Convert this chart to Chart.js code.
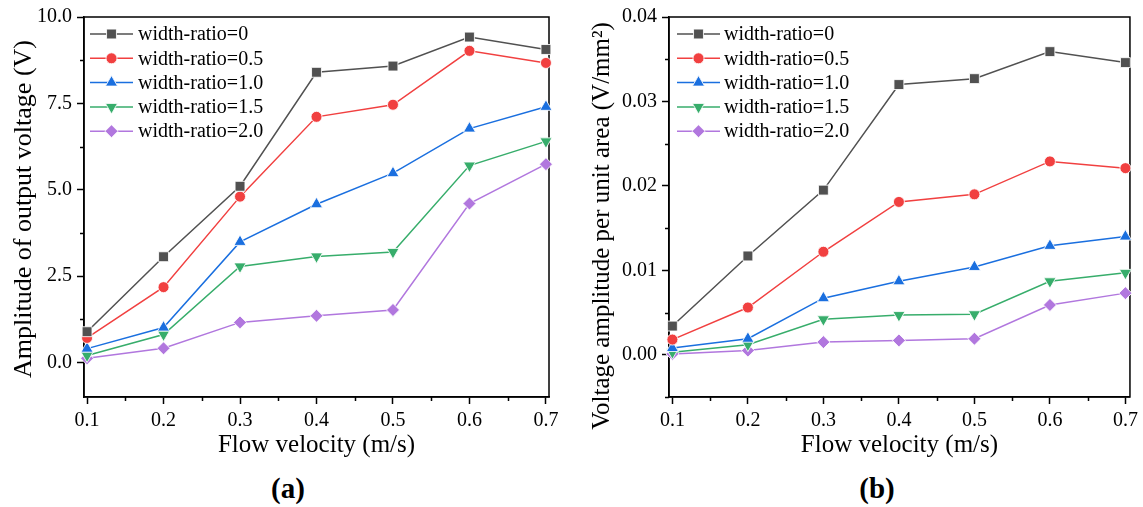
<!DOCTYPE html>
<html>
<head>
<meta charset="utf-8">
<script src="https://cdn.jsdelivr.net/npm/chart.js@4.4.1/dist/chart.umd.min.js"></script>
<style>
  html, body { margin: 0; padding: 0; background: #ffffff; }
  body { width: 1143px; height: 507px; position: relative; overflow: hidden; }
  .panel { position: absolute; top: 0; height: 460px; }
  #panelA { left: 0; width: 571px; }
  #panelB { left: 571px; width: 572px; }
  .tag {
    position: absolute; top: 471px; transform: translateX(-50%);
    font: bold 29px "Liberation Serif", serif; color: #000; line-height: 34px;
  }
</style>
</head>
<body>
<div class="panel" id="panelA"><canvas id="chartA"></canvas></div>
<div class="panel" id="panelB"><canvas id="chartB"></canvas></div>
<div class="tag" style="left:288px">(a)</div>
<div class="tag" style="left:877px">(b)</div>

<script>
// Flow velocities (m/s) shared by both panels
const velocity = [0.1, 0.2, 0.3, 0.4, 0.5, 0.6, 0.7];
const seriesNames = ['width-ratio=0', 'width-ratio=0.5', 'width-ratio=1.0', 'width-ratio=1.5', 'width-ratio=2.0'];

// (a) amplitude of output voltage (V)
const voltR00 = [0.89, 3.06, 5.10, 8.40, 8.58, 9.42, 9.06];
const voltR05 = [0.71, 2.18, 4.80, 7.11, 7.46, 9.02, 8.67];
const voltR10 = [0.40, 1.01, 3.49, 4.58, 5.48, 6.77, 7.40];
const voltR15 = [0.20, 0.81, 2.78, 3.07, 3.20, 5.70, 6.40];
const voltR20 = [0.12, 0.41, 1.16, 1.35, 1.52, 4.60, 5.74];

// (b) voltage amplitude per unit area (V/mm^2)
const densR00 = [0.0034, 0.0117, 0.0195, 0.0320, 0.0327, 0.0359, 0.0346];
const densR05 = [0.0018, 0.0056, 0.0122, 0.0181, 0.0190, 0.0229, 0.0221];
const densR10 = [0.0008, 0.0019, 0.0067, 0.0087, 0.0104, 0.0129, 0.0140];
const densR15 = [0.0003, 0.0012, 0.0042, 0.0047, 0.0048, 0.0087, 0.0097];
const densR20 = [0.0001, 0.0005, 0.0015, 0.0017, 0.0019, 0.0059, 0.0073];

// Tick values
const xTickValues = [0.1, 0.2, 0.3, 0.4, 0.5, 0.6, 0.7];
const xMinorValues = [0.15, 0.25, 0.35, 0.45, 0.55, 0.65];
const voltTickValues = [0, 2.5, 5, 7.5, 10];
const voltMinorValues = [1.25, 3.75, 6.25, 8.75];
const densTickValues = [0, 0.01, 0.02, 0.03, 0.04];
const densMinorValues = [-0.005, 0.005, 0.015, 0.025, 0.035];

const palette = ['#515151', '#F14040', '#1A6FDF', '#37AD6B', '#B177DE'];
const markers = [
  { pointStyle: 'rect', rotation: 0, radius: 7 },
  { pointStyle: 'circle', rotation: 0, radius: 5.5 },
  { pointStyle: 'triangle', rotation: 0, radius: 7 },
  { pointStyle: 'triangle', rotation: 180, radius: 7 },
  { pointStyle: 'rectRot', rotation: 0, radius: 6.5 }
];
const FONT = '"Liberation Serif", "Times New Roman", serif';

function buildDatasets(seriesList) {
  return seriesList.map((vals, i) => ({
    label: seriesNames[i],
    data: velocity.map((x, j) => ({ x: x, y: vals[j] })),
    borderColor: palette[i],
    backgroundColor: palette[i],
    borderWidth: 1.5,
    pointStyle: markers[i].pointStyle,
    pointRotation: markers[i].rotation,
    pointRadius: markers[i].radius,
    pointBackgroundColor: palette[i],
    pointBorderColor: 'rgba(255,255,255,0.85)',
    pointBorderWidth: 1,
    tension: 0,
    clip: false
  }));
}

// Frame around the plot area (top and right edges complete the box)
const framePlugin = {
  id: 'frame',
  beforeDatasetsDraw(chart) {
    const { ctx, chartArea: a } = chart;
    ctx.save();
    ctx.strokeStyle = '#000';
    ctx.lineWidth = 1.5;
    ctx.strokeRect(a.left, a.top, a.right - a.left, a.bottom - a.top);
    ctx.restore();
  }
};

// Short outward minor ticks between the labelled ones
const minorTickPlugin = {
  id: 'minorTicks',
  afterDraw(chart, args, opts) {
    const { ctx, chartArea: a, scales } = chart;
    ctx.save();
    ctx.strokeStyle = '#000';
    ctx.lineWidth = 1.5;
    ctx.beginPath();
    (opts.x || []).forEach(v => {
      const px = Math.round(scales.x.getPixelForValue(v)) + 0.5;
      ctx.moveTo(px, a.bottom);
      ctx.lineTo(px, a.bottom + 4);
    });
    (opts.y || []).forEach(v => {
      const py = Math.round(scales.y.getPixelForValue(v)) + 0.5;
      ctx.moveTo(a.left - 4, py);
      ctx.lineTo(a.left, py);
    });
    ctx.stroke();
    ctx.restore();
  }
};

// Rotated y-axis title, centred at a chosen height beside the axis
const sideTitlePlugin = {
  id: 'sideTitle',
  afterDraw(chart, args, opts) {
    const { ctx } = chart;
    ctx.save();
    ctx.translate(opts.x, opts.y);
    ctx.rotate(-Math.PI / 2);
    ctx.font = opts.size + 'px ' + FONT;
    ctx.fillStyle = '#000';
    ctx.textAlign = 'center';
    ctx.textBaseline = 'middle';
    ctx.fillText(opts.text, 0, 0);
    ctx.restore();
  }
};

// Legend drawn inside the upper-left corner of the plot
const insetLegendPlugin = {
  id: 'insetLegend',
  afterDatasetsDraw(chart, args, opts) {
    const { ctx, chartArea: a } = chart;
    ctx.save();
    ctx.font = '20px ' + FONT;
    ctx.textBaseline = 'middle';
    ctx.textAlign = 'left';
    chart.data.datasets.forEach((ds, i) => {
      const y = a.top + opts.dy + i * opts.spacing;
      const x0 = a.left + opts.dx;
      ctx.strokeStyle = ds.borderColor;
      ctx.lineWidth = 1.5;
      ctx.beginPath();
      ctx.moveTo(x0, y);
      ctx.lineTo(x0 + 43, y);
      ctx.stroke();
      ctx.fillStyle = ds.pointBackgroundColor;
      ctx.strokeStyle = ds.pointBorderColor;
      ctx.lineWidth = ds.pointBorderWidth;
      Chart.helpers.drawPoint(ctx, {
        pointStyle: ds.pointStyle,
        rotation: ds.pointRotation,
        radius: ds.pointRadius,
        borderWidth: ds.pointBorderWidth
      }, x0 + 21.5, y);
      ctx.fillStyle = '#000';
      ctx.fillText(ds.label, a.left + opts.textDx, y + 1);
    });
    ctx.restore();
  }
};

function makeChart(canvasId, cfg) {
  return new Chart(document.getElementById(canvasId), {
    type: 'line',
    data: { datasets: buildDatasets(cfg.series) },
    plugins: [framePlugin, minorTickPlugin, sideTitlePlugin, insetLegendPlugin],
    options: {
      responsive: true,
      maintainAspectRatio: false,
      animation: false,
      layout: { padding: { top: 17, right: cfg.padRight, bottom: 0, left: 0 } },
      plugins: {
        legend: { display: false },
        tooltip: { enabled: false },
        minorTicks: { x: xMinorValues, y: cfg.yMinor },
        sideTitle: { text: cfg.yTitle, x: cfg.yTitleX, y: cfg.yTitleY, size: cfg.yTitleSize },
        insetLegend: { dx: cfg.legendDx, textDx: cfg.legendTextDx, dy: 17, spacing: 24.3 }
      },
      scales: {
        x: {
          type: 'linear',
          min: cfg.xMin,
          max: cfg.xMax,
          afterBuildTicks: s => { s.ticks = xTickValues.map(v => ({ value: v })); },
          afterFit: s => { s.height = 63; },
          ticks: {
            color: '#000',
            font: { family: FONT, size: 20 },
            padding: 5,
            autoSkip: false,
            maxRotation: 0,
            callback: v => Number(v).toFixed(1)
          },
          grid: { drawOnChartArea: false, drawTicks: true, tickLength: 7, tickColor: '#000', tickWidth: 1.5 },
          border: { display: true, color: '#000', width: 1.5 },
          title: {
            display: true, text: 'Flow velocity (m/s)', color: '#000',
            font: { family: FONT, size: 25 }, padding: { top: 0, bottom: 0 }
          }
        },
        y: {
          type: 'linear',
          min: cfg.yMin,
          max: cfg.yMax,
          afterBuildTicks: s => { s.ticks = cfg.yTicks.map(v => ({ value: v })); },
          afterFit: s => { s.width = cfg.yAxisWidth; },
          ticks: {
            color: '#000',
            font: { family: FONT, size: 20 },
            padding: 5,
            autoSkip: false,
            callback: v => Number(v).toFixed(cfg.yDigits)
          },
          grid: { drawOnChartArea: false, drawTicks: true, tickLength: 7, tickColor: '#000', tickWidth: 1.5 },
          border: { display: true, color: '#000', width: 1.5 },
          title: { display: false }
        }
      }
    }
  });
}

makeChart('chartA', {
  series: [voltR00, voltR05, voltR10, voltR15, voltR20],
  xMin: 0.096, xMax: 0.704,
  yMin: -1, yMax: 10, yTicks: voltTickValues, yMinor: voltMinorValues, yDigits: 1,
  yTitle: 'Amplitude of output voltage (V)', yTitleX: 24, yTitleY: 209, yTitleSize: 26,
  yAxisWidth: 84, padRight: 22,
  legendDx: 6, legendTextDx: 54
});

makeChart('chartB', {
  series: [densR00, densR05, densR10, densR15, densR20],
  xMin: 0.0955, xMax: 0.706,
  yMin: -0.005, yMax: 0.04, yTicks: densTickValues, yMinor: densMinorValues, yDigits: 2,
  yTitle: 'Voltage amplitude per unit area (V/mm\u00B2)', yTitleX: 31, yTitleY: 226, yTitleSize: 25,
  yAxisWidth: 98, padRight: 8,
  legendDx: 8, legendTextDx: 55
});
</script>
</body>
</html>
